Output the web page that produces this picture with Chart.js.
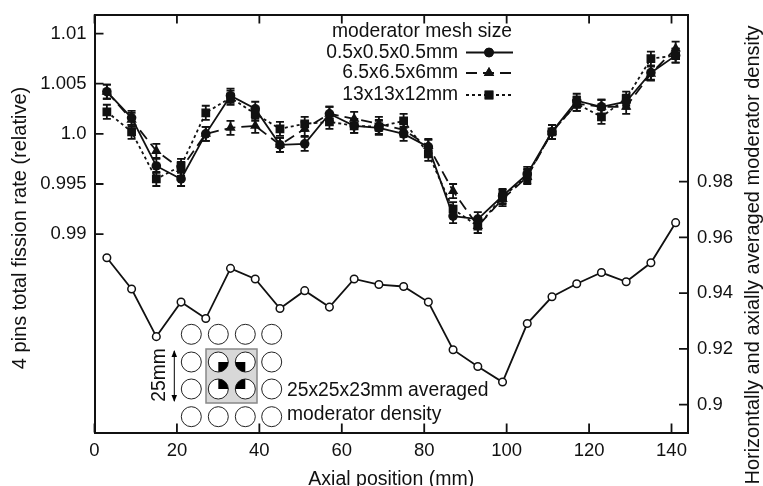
<!DOCTYPE html>
<html>
<head>
<meta charset="utf-8">
<style>
  html, body { margin: 0; padding: 0; background: #fff; }
  canvas { display: block; }
</style>
<script src="https://cdn.jsdelivr.net/npm/chart.js@4"></script>
</head>
<body>
<canvas id="grafico" width="763" height="486"></canvas>
<script>
// Axial positions (mm)
const posicoes = [3, 9, 15, 21, 27, 33, 39, 45, 51, 57, 63, 69, 75, 81, 87, 93, 99, 105, 111, 117, 123, 129, 135, 141];

// Relative fission rate by moderator mesh size
const malha05 = [1.0042, 1.0016, 0.9968, 0.9955, 1.0, 1.0038, 1.0025, 0.9989, 0.999, 1.002, 1.0008, 1.0006, 1.0, 0.9987, 0.9918, 0.9915, 0.9938, 0.996, 1.0002, 1.0033, 1.0027, 1.0032, 1.0061, 1.0078];
const malha65 = [1.0042, 1.0014, 0.9983, 0.9965, 1.0, 1.0006, 1.0008, 0.9989, 1.0005, 1.002, 1.0015, 1.001, 1.0004, 0.9988, 0.9943, 0.9908, 0.9935, 0.9957, 1.0002, 1.003, 1.0027, 1.0027, 1.006, 1.0085];
const malha13 = [1.0022, 1.0002, 0.9955, 0.9968, 1.0021, 1.0036, 1.002, 1.0005, 1.001, 1.0012, 1.0008, 1.0007, 1.0013, 0.998, 0.9925, 0.9908, 0.9937, 0.9958, 1.0002, 1.003, 1.0017, 1.0035, 1.0075, 1.0078];
const erro = 0.0007;

// Averaged moderator density (right axis)
const densidade = [0.9527, 0.9415, 0.9244, 0.9368, 0.9309, 0.9489, 0.9451, 0.9345, 0.9409, 0.935, 0.9451, 0.9431, 0.9424, 0.9368, 0.9197, 0.9137, 0.9081, 0.9291, 0.9387, 0.9434, 0.9474, 0.9441, 0.9509, 0.9653];

// Ticks
const xTicks = [0, 20, 40, 60, 80, 100, 120, 140];
const yTicks = [0.99, 0.995, 1.0, 1.005, 1.01];
const yTickLabels = ["0.99", "0.995", "1.0", "1.005", "1.01"];
const y2Ticks = [0.9, 0.92, 0.94, 0.96, 0.98];
const y2TickLabels = ["0.9", "0.92", "0.94", "0.96", "0.98"];

const fonte = "Liberation Sans, Arial, sans-serif";
const preto = "#111";
const tamanho = 18.5;

function pontos(valores) {
    return posicoes.map((x, i) => ({ x: x, y: valores[i] }));
}

function fixarTicks(lista) {
    return (scale) => {
        scale.ticks = lista.map((v) => ({ value: v }));
    };
}

// fixed box sizes, so the plot area does not depend on the labels
function fixarCaixa(largura, altura) {
    return (s) => {
        if (largura !== null) s.width = largura;
        if (altura !== null) s.height = altura;
        s.paddingTop = s.paddingBottom = s.paddingLeft = s.paddingRight = 0;
    };
}

// Inward tick marks on all four sides
const marcasEixo = {
    id: "marcasEixo",
    afterDatasetsDraw(chart) {
        const c = chart.ctx, a = chart.chartArea, s = chart.scales;
        c.save();
        c.strokeStyle = preto;
        c.lineWidth = 1.8;
        c.beginPath();
        xTicks.forEach((v) => {
            const px = s.x.getPixelForValue(v);
            c.moveTo(px, a.bottom); c.lineTo(px, a.bottom - 9);
            c.moveTo(px, a.top); c.lineTo(px, a.top + 9);
        });
        yTicks.forEach((v) => {
            const py = s.y.getPixelForValue(v);
            c.moveTo(a.left, py); c.lineTo(a.left + 9, py);
        });
        y2Ticks.forEach((v) => {
            const py = s.y2.getPixelForValue(v);
            c.moveTo(a.right, py); c.lineTo(a.right - 9, py);
        });
        c.stroke();
        c.restore();
    },
};

// Error bars behind the fission rate markers
const barrasErro = {
    id: "barrasErro",
    beforeDatasetsDraw(chart) {
        const c = chart.ctx, sx = chart.scales.x, sy = chart.scales.y;
        c.save();
        c.strokeStyle = preto;
        c.lineWidth = 1.8;
        [malha05, malha65, malha13].forEach((serie) => {
            serie.forEach((v, i) => {
                const px = sx.getPixelForValue(posicoes[i]);
                const a = sy.getPixelForValue(v - erro), b = sy.getPixelForValue(v + erro);
                c.beginPath();
                c.moveTo(px, a); c.lineTo(px, b);
                c.moveTo(px - 4, a); c.lineTo(px + 4, a);
                c.moveTo(px - 4, b); c.lineTo(px + 4, b);
                c.stroke();
            });
        });
        c.restore();
    },
};

function texto(c, t, x, y, align) {
    c.textAlign = align || "left";
    c.fillText(t, x, y);
}

function textoVertical(c, t, x, y) {
    c.save();
    c.translate(x, y);
    c.rotate(-Math.PI / 2);
    c.textAlign = "center";
    c.fillText(t, 0, 0);
    c.restore();
}

// Axis titles, key and the small pin cell drawing
const anotacoes = {
    id: "anotacoes",
    afterDraw(chart) {
        const c = chart.ctx;
        c.save();
        c.fillStyle = preto;
        c.strokeStyle = preto;
        c.font = "20px " + fonte;
        c.textBaseline = "middle";

        textoVertical(c, "4 pins total fission rate (relative)", 20, 228);
        textoVertical(c, "Horizontally and axially averaged moderator density", 753, 255);
        c.font = "19.3px " + fonte;

        // key
        texto(c, "moderator mesh size", 512, 32, "right");
        const chave = [
            ["0.5x0.5x0.5mm", 52.5, [], "circle", 4.8],
            ["6.5x6.5x6mm", 73, [11, 6], "triangle", 6],
            ["13x13x12mm", 95, [3, 3], "rect", 6.2],
        ];
        chave.forEach(([nome, y, traco, estilo, raio]) => {
            texto(c, nome, 458, y, "right");
            c.lineWidth = 1.8;
            c.setLineDash(traco);
            c.beginPath();
            c.moveTo(466, y); c.lineTo(513, y);
            c.stroke();
            c.setLineDash([]);
            Chart.helpers.drawPoint(c, { pointStyle: estilo, radius: raio, rotation: 0, borderWidth: 0 }, 489, y);
            c.fill();
        });

        // pin cell
        c.fillStyle = "#d8d8d8";
        c.strokeStyle = "#888";
        c.lineWidth = 1.5;
        c.fillRect(206, 349, 51, 54);
        c.strokeRect(206, 349, 51, 54);
        const colunas = [191.3, 218.3, 245.3, 271.7], linhas = [334.3, 362, 389, 416.7];
        c.strokeStyle = "#222";
        c.lineWidth = 1;
        linhas.forEach((y) => {
            colunas.forEach((x) => {
                c.beginPath();
                c.arc(x, y, 10, 0, 2 * Math.PI);
                c.fillStyle = "#fff";
                c.fill();
                c.stroke();
            });
        });
        // quarter of each inner pin, the one facing the cell centre
        c.fillStyle = "#000";
        [[218.3, 362, 0], [245.3, 362, 0.5], [245.3, 389, 1], [218.3, 389, 1.5]].forEach(([x, y, ini]) => {
            c.beginPath();
            c.moveTo(x, y);
            c.arc(x, y, 10, ini * Math.PI, (ini + 0.5) * Math.PI);
            c.closePath();
            c.fill();
        });

        // dimension arrow
        c.fillStyle = "#000";
        c.strokeStyle = "#000";
        c.lineWidth = 1;
        c.beginPath();
        c.moveTo(174.3, 351); c.lineTo(174.3, 401);
        c.stroke();
        [[350, 1], [402, -1]].forEach(([y, s]) => {
            c.beginPath();
            c.moveTo(174.3, y);
            c.lineTo(171.5, y + s * 7);
            c.lineTo(177, y + s * 7);
            c.closePath();
            c.fill();
        });

        c.fillStyle = preto;
        textoVertical(c, "25mm", 160, 375);
        texto(c, "25x25x23mm averaged", 287, 391);
        texto(c, "moderator density", 287, 415);
        c.restore();
    },
};

const linhaBase = {
    parsing: false,
    borderColor: preto,
    borderWidth: 1.8,
    pointBorderWidth: 0,
    tension: 0,
    yAxisID: "y",
};

const gradeTicks = { drawOnChartArea: false, drawTicks: false };
const bordaEixo = { color: preto, width: 2 };

new Chart(document.getElementById("grafico").getContext("2d"), {
    type: "line",
    plugins: [marcasEixo, barrasErro, anotacoes],
    data: {
        datasets: [
            {
                ...linhaBase,
                label: "0.5x0.5x0.5mm",
                data: pontos(malha05),
                backgroundColor: preto,
                pointStyle: "circle",
                pointRadius: 4.8,
            },
            {
                ...linhaBase,
                label: "6.5x6.5x6mm",
                data: pontos(malha65),
                backgroundColor: preto,
                borderDash: [11, 6],
                pointStyle: "triangle",
                pointRadius: 6,
            },
            {
                ...linhaBase,
                label: "13x13x12mm",
                data: pontos(malha13),
                backgroundColor: preto,
                borderDash: [3, 3],
                pointStyle: "rect",
                pointRadius: 6.2,
            },
            {
                ...linhaBase,
                label: "25x25x23mm averaged moderator density",
                data: pontos(densidade),
                yAxisID: "y2",
                backgroundColor: "#fff",
                pointStyle: "circle",
                pointRadius: 3.8,
                pointBorderWidth: 1.5,
                pointBorderColor: preto,
            },
        ],
    },
    options: {
        responsive: false,
        animation: false,
        layout: { padding: { top: 14.5, left: 0, right: 0, bottom: 0 } },
        plugins: { legend: { display: false }, tooltip: { enabled: false } },
        scales: {
            x: {
                type: "linear",
                min: 0,
                max: 144,
                afterBuildTicks: fixarTicks(xTicks),
                afterFit: fixarCaixa(null, 53.5),
                grid: gradeTicks,
                border: bordaEixo,
                ticks: { padding: 7, color: preto, font: { family: fonte, size: tamanho }, maxRotation: 0, autoSkip: false },
                title: { display: true, text: "Axial position (mm)", color: preto, font: { family: fonte, size: 19.5 }, padding: { top: 0, bottom: -5 } },
            },
            xTopo: {
                type: "linear",
                position: "top",
                min: 0,
                max: 144,
                afterBuildTicks: fixarTicks(xTicks),
                afterFit: fixarCaixa(null, 0),
                grid: gradeTicks,
                border: bordaEixo,
                ticks: { display: false },
            },
            y: {
                position: "left",
                min: 0.97022,
                max: 1.0119,
                afterBuildTicks: fixarTicks(yTicks),
                afterFit: fixarCaixa(94.5, null),
                grid: gradeTicks,
                border: bordaEixo,
                ticks: {
                    padding: 8,
                    color: preto,
                    font: { family: fonte, size: tamanho },
                    autoSkip: false,
                    callback: (v) => yTickLabels[yTicks.indexOf(v)],
                },
            },
            y2: {
                position: "right",
                min: 0.89,
                max: 1.04,
                afterBuildTicks: fixarTicks(y2Ticks),
                afterFit: fixarCaixa(75, null),
                grid: gradeTicks,
                border: bordaEixo,
                ticks: {
                    padding: 9,
                    color: preto,
                    font: { family: fonte, size: tamanho },
                    autoSkip: false,
                    callback: (v) => y2TickLabels[y2Ticks.indexOf(v)],
                },
            },
        },
    },
});
</script>
</body>
</html>
